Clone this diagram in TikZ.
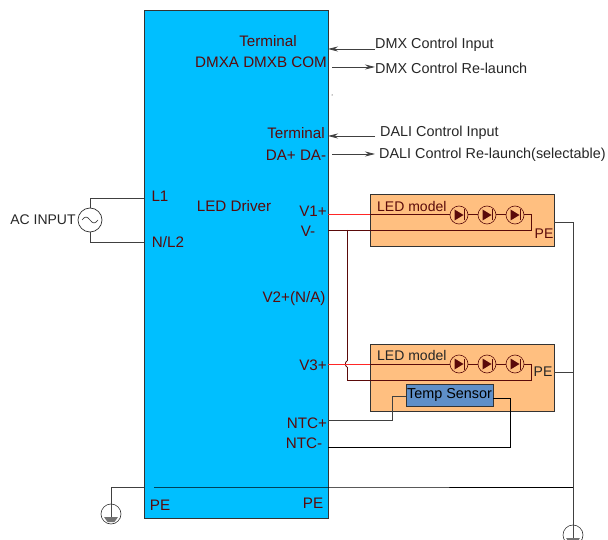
\documentclass[tikz,border=0pt]{standalone}
\usepackage{fontspec}
\setmainfont{Liberation Sans}
\usetikzlibrary{arrows.meta}
\definecolor{driverblue}{HTML}{00BFFF}
\definecolor{ledorange}{HTML}{FFBF80}
\definecolor{sensorblue}{HTML}{5F8FC8}
\definecolor{darkred}{HTML}{5A0A0A}
\definecolor{wiregray}{HTML}{404040}
\tikzset{
  lbl/.style={inner sep=0pt,font=\fontsize{14}{14}\selectfont},
  termlbl/.style={inner sep=0pt,font=\fontsize{15.2}{15}\selectfont,text=darkred},
  sig/.style={inner sep=0pt,font=\fontsize{14.4}{14}\selectfont,anchor=west,text=black!85},
  wire/.style={draw=wiregray,line width=0.8pt},
  ledwire/.style={draw=darkred,line width=0.8pt},
  redwire/.style={draw=red!85,line width=0.8pt},
  ctrl/.style={draw=black!75,line width=0.8pt,>={Stealth[length=10pt,width=5pt]}},
  ledbox/.style={draw=black!80,fill=ledorange,line width=0.9pt,inner sep=0pt},
  led/.style={circle,draw=darkred,fill=ledorange,line width=0.6pt,minimum size=18pt,inner sep=0pt,
    path picture={
      \fill[darkred] (-4.5pt,-5.5pt) -- (-4.5pt,5.5pt) -- (4.5pt,0pt) -- cycle;
      \draw[darkred,line width=0.9pt] (5pt,-5.5pt) -- (5pt,5.5pt);
    }},
  gnd/.style={circle,draw=black!80,line width=0.6pt,minimum size=20pt,inner sep=0pt,
    path picture={
      \draw[black!70,line width=0.8pt] (0pt,10pt) -- (0pt,-3pt);
      \fill[black!55] (-7pt,-3pt) -- (7pt,-3pt) -- (3.5pt,-8pt) -- (-3.5pt,-8pt) -- cycle;
    }},
}
\begin{document}
\begin{tikzpicture}[x=1pt,y=-1pt]
\useasboundingbox (0,0) rectangle (608,540);

% define the boxes
  \node[draw=black!80,fill=driverblue,line width=0.9pt,minimum width=184pt,minimum height=508pt,inner sep=0pt] (driver) at (236,264) {};
  \node[ledbox,minimum width=184pt,minimum height=52pt] (model1) at (462,220) {};
  \node[ledbox,minimum width=184pt,minimum height=67pt] (model2) at (462,377.5) {};
  \node[draw=black!80,fill=sensorblue,line width=0.8pt,minimum width=87pt,minimum height=22pt,inner sep=0pt,font=\fontsize{14.4}{14}\selectfont] (sensor) at (449.5,395) {Temp Sensor};

% define the labels on the driver
  \node[termlbl] (term1) at (268,41) {Terminal};
  \node[termlbl] (dmx) at (261,62) {DMXA DMXB COM};
  \node[termlbl] (term2) at (296,133) {Terminal};
  \node[termlbl] (dali) at (296,155) {DA+ DA-};
  \node[termlbl] (l1) at (160,196) {L1};
  \node[termlbl] (l2) at (168,242) {N/L2};
  \node[termlbl] (name) at (234,206) {LED Driver};
  \node[termlbl] (v1) at (313,211) {V1+};
  \node[termlbl] (vm) at (308,231) {V-};
  \node[termlbl] (v2) at (294,299) {V2+(N/A)};
  \node[termlbl] (v3) at (313,365) {V3+};
  \node[termlbl] (ntcp) at (307,423) {NTC+};
  \node[termlbl] (ntcm) at (304,443) {NTC-};
  \node[termlbl] (pe1) at (160,505) {PE};
  \node[termlbl] (pe2) at (313,503) {PE};

% define the outside labels
  \node[sig] (dmxin) at (375,45) {DMX Control Input};
  \node[sig] (dmxout) at (375,68) {DMX Control Re-launch};
  \node[sig] (daliin) at (380,133) {DALI Control Input};
  \node[sig] (daliout) at (379,155) {DALI Control Re-launch(selectable)};
  \node[lbl,text=black!85] (acin) at (43,220) {AC INPUT};
  \node[lbl,text=darkred,anchor=west] (name1) at (377,206) {LED model};
  \node[lbl,anchor=west,text=black!85] (name2) at (377,355) {LED model};
  \node[lbl,text=darkred] (pe3) at (544,234) {PE};
  \node[lbl,text=black!85] (pe4) at (543,372) {PE};

% define the free ends of the links
  \coordinate (c1) at (328,49);
  \coordinate (c2) at (375,49);
  \coordinate (c3) at (332,67);
  \coordinate (c4) at (375,67);
  \coordinate (c5) at (328,136);
  \coordinate (c6) at (375,136);
  \coordinate (c7) at (332,154);
  \coordinate (c8) at (375,154);
  \coordinate (a1) at (144,198);
  \coordinate (a2) at (144,242);
  \coordinate (w1) at (328,214.5);
  \coordinate (w2) at (370,214.5);
  \coordinate (w3) at (531,214.5);
  \coordinate (w4) at (531,230);
  \coordinate (w5) at (328,230);
  \coordinate (w6) at (347,230);
  \coordinate (w7) at (347,361);
  \coordinate (w8) at (347,367);
  \coordinate (w9) at (347,380);
  \coordinate (w10) at (531,380);
  \coordinate (w11) at (531,364);
  \coordinate (w12) at (370,364);
  \coordinate (w13) at (328,364);
  \coordinate (t1) at (328,420);
  \coordinate (t2) at (392,420);
  \coordinate (t3) at (392,396);
  \coordinate (t4) at (328,447);
  \coordinate (t5) at (510,447);
  \coordinate (t6) at (510,398);
  \coordinate (p1) at (554,222.5);
  \coordinate (p2) at (573,222.5);
  \coordinate (p3) at (554,372);
  \coordinate (p4) at (573,372);
  \coordinate (p5) at (328,487);
  \coordinate (p6) at (573,487);
  \coordinate (p7) at (144,487);
  \coordinate (p8) at (111,487);
  \coordinate (p9) at (154,487);
  \coordinate (speck) at (332,95);

% define the links
  \draw[ctrl,->] (c2) -- (c1);
  \draw[ctrl,->] (c3) -- (c4);
  \draw[ctrl,->] (c6) -- (c5);
  \draw[ctrl,->] (c7) -- (c8);
  \fill[black] (speck) circle (0.5pt);
  \draw[redwire] (w1) -- (w2);
  \draw[ledwire] (w2) -- (w3) -- (w4) -- (w5);
  \draw[ledwire] (w12) -- (w11) -- (w10) -- (w9) -- (w8);
  \draw[ledwire] (w6) -- (w7);
  \draw[ledwire] (w7) to[bend right=70] (w8);
  \draw[redwire] (w13) -- (w12);
  \draw[wire] (sensor.west |- t3) -- (t3) -- (t2) -- (t1);
  \draw[black,line width=0.8pt] (sensor.east |- t6) -- (t6) -- (t5) -- (t4);
  \draw[wire] (p1) -- (p2);
  \draw[wire] (p3) -- (p4);
  \draw[black,line width=0.8pt] (p9) -- (p5) -- (p6);
  \draw[wire] (p2) -- (p6);

% define the symbols
  \foreach \n/\x in {a/459,b/487,c/515}{
    \node[led] (led1\n) at (\x,215) {};
    \node[led] (led2\n) at (\x,364) {};
  }
  \node[circle,draw=black!80,fill=white,line width=0.7pt,minimum size=24pt,inner sep=0pt] (src) at (90,220) {};
  \draw[black!80,line width=0.6pt] (82,220) sin (86,217) cos (90,220) sin (94,223) cos (98,220);
  \draw[wire] (src.north) -- (src.north |- a1) -- (a1);
  \draw[wire] (src.south) -- (src.south |- a2) -- (a2);
  \node[gnd] (gnd1) at (111,514) {};
  \node[gnd] (gnd2) at (573,535) {};
  \draw[wire] (p7) -- (p8) -- (gnd1);
  \draw[wire] (p6) -- (gnd2.north);
\end{tikzpicture}
\end{document}
